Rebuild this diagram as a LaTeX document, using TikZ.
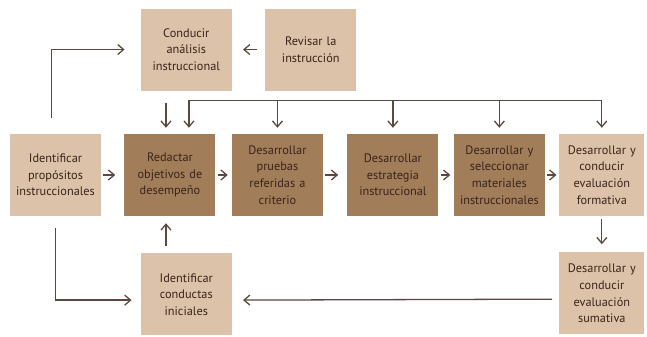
\documentclass[tikz,border=0pt]{standalone}
\usepackage{fontspec}
\setmainfont{PT Sans}
\usepackage{tikz}
\usetikzlibrary{arrows.meta, positioning}
\definecolor{boxlight}{RGB}{219,194,168}
\definecolor{boxdark}{RGB}{161,125,89}
\definecolor{inkbrown}{RGB}{58,36,28}
\definecolor{linebrown}{RGB}{92,72,62}
\tikzstyle{lightbox} = [rectangle, minimum width=2.73cm, minimum height=2.46cm, text width=2.6cm, align=center, fill=boxlight, text=inkbrown, inner sep=0.05cm, font=\fontsize{10.5}{14.2}\selectfont]
\tikzstyle{darkbox} = [lightbox, fill=boxdark]
\tikzstyle{narrowbox} = [lightbox, minimum width=2.52cm, text width=2.45cm]
\tikzstyle{arrow} = [line width=1.1pt, draw=linebrown, ->, >={Straight Barb[length=5pt,width=8.5pt]}]

\begin{document}
\begin{tikzpicture}[node distance=0.6cm]
	\useasboundingbox (-1.665,-4.86) rectangle (17.745,5.25);
	\node (idGoals) [lightbox] at (0,0) {Identificar\\propósitos\\instruccionales};
	\node (writeObj) [darkbox, right=0.69cm of idGoals] {Redactar\\objetivos de\\desempeño};
	\node (devTests) [darkbox, right=0.48cm of writeObj] {Desarrollar\\pruebas\\referidas a\\criterio};
	\node (devStrat) [darkbox, right=0.72cm of devTests] {Desarrollar\\estrategia\\instruccional};
	\node (devMat) [darkbox, right=0.45cm of devStrat] {Desarrollar y\\seleccionar\\materiales\\instruccionales};
	\node (evalForm) [narrowbox, right=0.42cm of devMat] {Desarrollar y\\conducir\\evaluación\\formativa};
	\node (evalSum) [narrowbox, below=1.08cm of evalForm] {Desarrollar y\\conducir\\evaluación\\sumativa};
	\node (analysis) [lightbox, above=1.29cm of writeObj, xshift=0.49cm] {Conducir\\análisis\\instruccional};
	\node (revise) [lightbox, right=0.99cm of analysis] {Revisar la\\instrucción};
	\node (entryBeh) [lightbox, below=1.11cm of writeObj, xshift=0.49cm] {Identificar\\conductas\\iniciales};

	\coordinate (busLeft) at ([xshift=0.57cm, yshift=0.99cm]writeObj.north);
	\coordinate (objTop) at ([xshift=-0.12cm]writeObj.north);
	\coordinate (objBottom) at ([xshift=-0.12cm]writeObj.south);

	\draw [arrow, shorten <=0.48cm, shorten >=0.48cm] ([xshift=-0.12cm]idGoals.north) |- (analysis.west);
	\draw [arrow, shorten <=0.24cm, shorten >=0.33cm] (revise) -- (analysis);
	\draw [arrow, shorten <=0.36cm, shorten >=0.18cm] (analysis.south -| objTop) -- (objTop);
	\draw [arrow, shorten >=0.18cm] (busLeft -| evalForm.north) -- (busLeft) -- (busLeft |- writeObj.north);
	\draw [arrow, shorten >=0.18cm] (busLeft -| devTests.north) -- (devTests.north);
	\draw [arrow, shorten >=0.18cm] (busLeft -| devStrat.north) -- (devStrat.north);
	\draw [arrow, shorten >=0.18cm] (busLeft -| devMat.north) -- (devMat.north);
	\draw [arrow, shorten >=0.18cm] (busLeft -| evalForm.north) -- (evalForm.north);
	\draw [arrow, shorten <=0.06cm, shorten >=0.27cm] (idGoals) -- (writeObj);
	\draw [arrow, shorten <=0.06cm, shorten >=0.12cm] (writeObj) -- (devTests);
	\draw [arrow, shorten <=0.06cm, shorten >=0.27cm] (devTests) -- (devStrat);
	\draw [arrow, shorten <=0.06cm, shorten >=0.1cm] (devStrat) -- (devMat);
	\draw [arrow, shorten <=0.06cm, shorten >=0.08cm] (devMat) -- (evalForm);
	\draw [arrow, shorten <=0.09cm, shorten >=0.24cm] (evalForm) -- (evalSum);
	\draw [arrow, shorten <=0.21cm, shorten >=0.33cm] ([yshift=-0.17cm]evalSum.west) -- ([yshift=-0.17cm]entryBeh.east);
	\draw [arrow, shorten <=0.36cm, shorten >=0.27cm] (idGoals.south) |- ([yshift=-0.17cm]entryBeh.west);
	\draw [arrow, shorten <=0.21cm, shorten >=0.21cm] (entryBeh.north -| objBottom) -- (objBottom);
\end{tikzpicture}
\end{document}
